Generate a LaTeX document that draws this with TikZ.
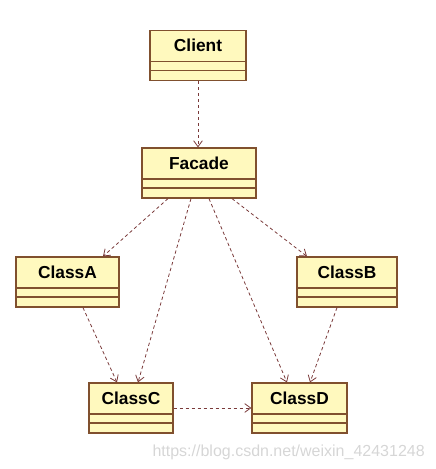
\documentclass[tikz,border=0pt]{standalone}
\usepackage{fontspec}
\setmainfont{Liberation Sans}
\usetikzlibrary{arrows.meta, positioning}

\definecolor{clsfill}{HTML}{FFF9BE}
\definecolor{clsline}{HTML}{80502E}
\definecolor{depline}{HTML}{7A3A3A}
\definecolor{urlgray}{HTML}{D6D6D6}

\begin{document}
\begin{tikzpicture}[
	x=0.75pt, y=-0.75pt,
	cls/.style={
		rectangle,
		draw=clsline,
		fill=clsfill,
		line width=0.9pt,
		inner xsep=0pt,
		inner ysep=0pt,
		text height=16.1pt,
		text depth=21.4pt,
		font=\fontsize{13}{15}\selectfont\bfseries,
		path picture={
			\draw[clsline, line width=0.9pt] ([yshift=14.25pt]path picture bounding box.south west) -- ([yshift=14.25pt]path picture bounding box.south east);
			\draw[clsline, line width=0.9pt] ([yshift=7.5pt]path picture bounding box.south west) -- ([yshift=7.5pt]path picture bounding box.south east);
		}
	},
	dep/.style={
		-{Straight Barb[length=4.5pt, width=6.5pt]},
		draw=depline,
		line width=0.6pt,
		dash pattern=on 2.5pt off 2pt
	},
	watermark/.style={text=urlgray, font=\fontsize{12}{14}\selectfont, inner sep=0pt}
]
	\useasboundingbox (0,0) rectangle (436,469);

	\node[cls, minimum width=72pt] (client) at (198,55.5) {Client};
	\node[cls, minimum width=85.5pt] (facade) at (199,173) {Facade};
	\node[cls, minimum width=77.25pt] (classa) at (67.5,282) {ClassA};
	\node[cls, minimum width=75pt] (classb) at (347,282) {ClassB};
	\node[cls, minimum width=63pt] (classc) at (131,408) {ClassC};
	\node[cls, minimum width=71.25pt] (classd) at (299.5,408) {ClassD};

	\node[watermark, anchor=base east] (url) at (425,456.7) {https://blog.csdn.net/weixin\_42431248};

	\draw[dep] ([xshift=-0.75pt]facade.north |- client.south) -- ([xshift=-0.75pt]facade.north);
	\draw[dep] ([xshift=-23.25pt]facade.south) -- ([xshift=26.6pt]classa.north);
	\draw[dep] ([xshift=-6pt]facade.south) -- ([xshift=5.25pt]classc.north);
	\draw[dep] ([xshift=7.5pt]facade.south) -- ([xshift=-9.4pt]classd.north);
	\draw[dep] ([xshift=24.75pt]facade.south) -- ([xshift=-30pt]classb.north);
	\draw[dep] ([xshift=11.6pt]classa.south) -- ([xshift=-10.5pt]classc.north);
	\draw[dep] ([xshift=-7.5pt]classb.south) -- ([xshift=7.9pt]classd.north);
	\draw[dep] (classc.east) -- (classd.west);

\end{tikzpicture}
\end{document}
